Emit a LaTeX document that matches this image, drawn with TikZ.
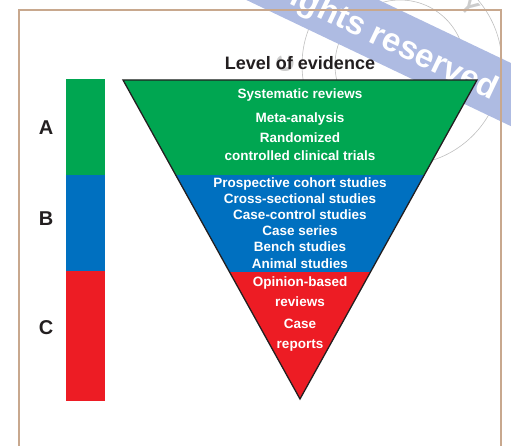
\documentclass[tikz,border=0pt]{standalone}
\usepackage{fontspec}
\setmainfont{Liberation Sans}
\definecolor{evgreen}{RGB}{0,166,81}
\definecolor{evblue}{RGB}{0,112,192}
\definecolor{evred}{RGB}{237,28,36}
\definecolor{evink}{RGB}{35,31,32}
\definecolor{evframe}{RGB}{200,168,142}
\definecolor{evstamp}{RGB}{174,187,226}

\begin{document}
\begin{tikzpicture}[x=1pt,y=-1pt,
  level/.style={font=\fontsize{13.5}{16}\selectfont\bfseries, text=white, anchor=base, inner sep=0pt},
  grade/.style={font=\fontsize{20}{24}\selectfont\bfseries, text=evink, inner sep=0pt},
  ring/.style={font=\fontsize{24}{28}\selectfont\bfseries, text=gray!40, inner sep=0pt}]
\useasboundingbox (0,0) rectangle (511,446);
% Stamp in the corner
\draw[gray!50, line width=0.6pt] (400,65) circle (65pt);
\draw[gray!50, line width=0.6pt] (402,65) circle (100pt);
\node[ring, rotate=90] (ringC) at (285,64) {C};
\node[ring, rotate=-45] (ringY) at (470,6) {Y};
\node[fill=evstamp, rotate=-25.5, minimum width=420pt, minimum height=57pt, inner sep=0pt] (stampband) at (430,56) {};
\node[text=white, font=\fontsize{33}{36}\selectfont\bfseries, rotate=-25.5, anchor=east, inner sep=0pt] (stamptext) at (496,93) {rights reserved};
% Frame
\draw[evframe, line width=1.5pt] (19,460) |- (501,10) -- (501,460);
% Grade bars
\fill[evgreen] (66,79) rectangle (105,175);
\fill[evblue] (66,175) rectangle (105,271);
\fill[evred] (66,271) rectangle (105,401);
\node[grade] (gradeA) at (46,128) {A};
\node[grade] (gradeB) at (46,219) {B};
\node[grade] (gradeC) at (46,328) {C};
% Inverted pyramid
\coordinate (tl) at (123,80);
\coordinate (tr) at (477,80);
\coordinate (tip) at (300,399);
\begin{scope}
  \clip (tl) -- (tr) -- (tip) -- cycle;
  \fill[evgreen] (100,70) rectangle (500,175);
  \fill[evblue] (100,175) rectangle (500,272);
  \fill[evred] (100,272) rectangle (500,410);
\end{scope}
\draw[evink, line width=1.3pt, line join=miter] (tl) -- (tr) -- (tip) -- cycle;
\node[font=\fontsize{18}{22}\selectfont\bfseries, text=evink, anchor=base, inner sep=0pt] (title) at (300,69.5) {Level of evidence};
% Study types
\foreach \txt/\y [count=\i] in {Systematic reviews/98.6, Meta-analysis/122.9, Randomized/142.9, controlled clinical trials/160.4}
  \node[level] (green\i) at (300,\y) {\txt};
\foreach \txt/\y [count=\i] in {Prospective cohort studies/187.9, Cross-sectional studies/203.9, Case-control studies/219.9, Case series/235.9, Bench studies/251.9, Animal studies/268.9}
  \node[level] (blue\i) at (300,\y) {\txt};
\foreach \txt/\y [count=\i] in {Opinion-based/286.9, reviews/306.7, Case/328.9, reports/348}
  \node[level] (red\i) at (300,\y) {\txt};
\end{tikzpicture}
\end{document}
